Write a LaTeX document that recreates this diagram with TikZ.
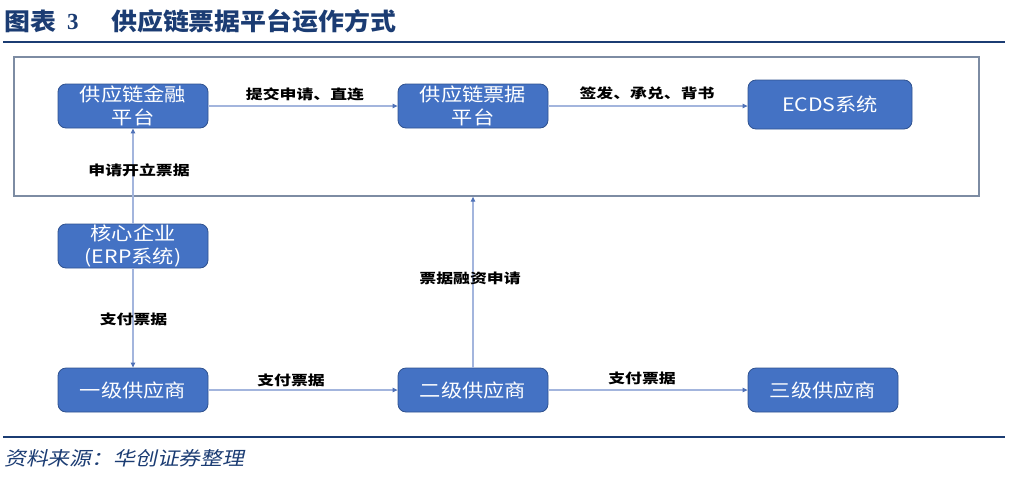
\documentclass[tikz,border=0pt]{standalone}
\usepackage{fontspec}
\usetikzlibrary{arrows.meta}
\setmainfont{Liberation Sans}
\newfontfamily\serifn{Liberation Serif}
\newfontfamily\cjkn{Noto Sans CJK SC}[FakeStretch=1.15]
\newfontfamily\cjke{Noto Sans CJK SC}[FakeStretch=1.25]
\newfontfamily\cjkt{Noto Sans CJK SC}[FakeStretch=1.08]
\newfontfamily\cjks{Noto Sans CJK SC}[FakeStretch=1.15,FakeSlant=0.22]
\definecolor{navy}{HTML}{1B3C73}
\definecolor{boxfill}{HTML}{4472C4}
\definecolor{boxedge}{HTML}{2F528F}
\definecolor{lineclr}{HTML}{A3B5DD}
\definecolor{tipclr}{HTML}{4F72B8}
\definecolor{frameclr}{HTML}{7D8CA3}
\begin{document}
\begin{tikzpicture}[x=1pt,y=-1pt,
  blk/.style={draw=boxedge,line width=0.8pt,fill=boxfill,rounded corners=8pt,
    minimum width=150pt,minimum height=44pt,inner sep=0pt,align=center,
    text=white,font=\cjkn\fontsize{18.5}{23}\selectfont},
  elab/.style={font=\cjke\bfseries\fontsize{13.5}{16}\selectfont,text=black,inner sep=0pt},
  conn/.style={draw=lineclr,line width=1.1pt,
    -{Triangle[length=5pt,width=4.5pt,color=tipclr]}}]
\useasboundingbox (0,0) rectangle (1011,485);
% title
\node[anchor=west,text=navy,font=\cjkt\bfseries\fontsize{24}{26}\selectfont,inner sep=0pt] (t1) at (4,21) {图表};
\node[anchor=west,text=navy,font=\serifn\bfseries\fontsize{23}{26}\selectfont,inner sep=0pt] (t2) at (67,22) {3};
\node[anchor=west,text=navy,font=\cjkt\bfseries\fontsize{24}{26}\selectfont,inner sep=0pt] (t3) at (111,21) {供应链票据平台运作方式};
\draw[navy,line width=2.6pt] (3,42) -- (1005,42);
% frame
\node[draw=frameclr,line width=1.3pt,minimum width=965pt,minimum height=139pt,inner sep=0pt] (frame) at (496.5,126.5) {};
% blocks
\node[blk] (fin) at (133,106) {供应链金融\\平台};
\node[blk] (bill) at (473,106) {供应链票据\\平台};
\node[blk,minimum width=164pt,minimum height=49pt] (ecds) at (830,104.5) {ECDS系统};
\node[blk] (core) at (133,246) {核心企业\\(ERP系统)};
\node[blk] (s1) at (133,390) {一级供应商};
\node[blk] (s2) at (473,390) {二级供应商};
\node[blk] (s3) at (823,390) {三级供应商};
% connectors
\path[conn] (core) -- (fin);
\path[conn] (core) -- (s1);
\path[conn] (fin) -- (bill);
\path[conn] (bill.east) -- (bill.east -| ecds.west);
\path[conn] (s1) -- (s2);
\path[conn] (s2) -- (s3);
\path[conn] (s2) -- (s2 |- frame.south);
% labels
\node[elab] (l1) at (305,94) {提交申请、直连};
\node[elab] (l2) at (647,93) {签发、承兑、背书};
\node[elab] (l3) at (139,170) {申请开立票据};
\node[elab] (l4) at (133.5,319) {支付票据};
\node[elab] (l5) at (470,278) {票据融资申请};
\node[elab] (l6) at (291,380) {支付票据};
\node[elab] (l7) at (642,378) {支付票据};
% footer
\draw[navy,line width=2.6pt] (3,437) -- (1005,437);
\node[anchor=west,text=navy,font=\cjks\fontsize{19}{22}\selectfont,inner sep=0pt] (src) at (4,458) {资料来源：华创证券整理};
\end{tikzpicture}
\end{document}
